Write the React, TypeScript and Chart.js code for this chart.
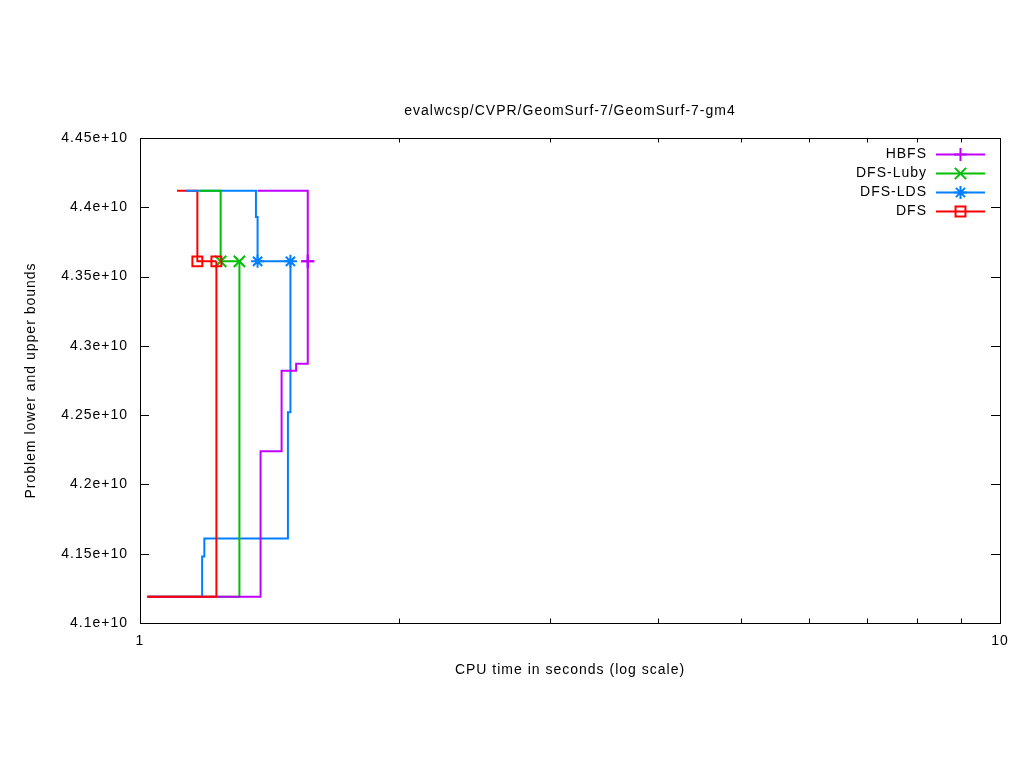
import React, { useEffect, useRef } from "react";
import { Chart, registerables } from "chart.js";

Chart.register(...registerables);

// ---------- data ----------
const TITLE = "evalwcsp/CVPR/GeomSurf-7/GeomSurf-7-gm4";
const X_TITLE = "CPU time in seconds (log scale)";
const Y_TITLE = "Problem lower and upper bounds";

const SERIES_NAMES = ["HBFS", "DFS-Luby", "DFS-LDS", "DFS"];
const SERIES_COLORS = ["#c000ff", "#00c000", "#0080ff", "#ff0000"];
const SERIES_MARKERS = ["cross", "crossRot", "star", "rect"];
const MARKER_RADII = [6.5, 8, 6.5, 7];

const X_TICKS = [1, 2, 3, 4, 5, 6, 7, 8, 9, 10];
const X_LABELED = [1, 10];
const Y_MIN = 4.1e10;
const Y_MAX = 4.45e10;
const Y_STEP = 0.05e10;

// HBFS
const hbfsUpperTime = [1.37, 1.567];
const hbfsUpperValue = [4.412e10, 4.361e10];
const hbfsLowerTime = [1.02, 1.381, 1.461, 1.519, 1.567];
const hbfsLowerValue = [4.119e10, 4.224e10, 4.282e10, 4.287e10, 4.361e10];
// DFS-Luby
const lubyUpperTime = [1.174, 1.241, 1.305];
const lubyUpperValue = [4.412e10, 4.361e10, 4.361e10];
const lubyLowerTime = [1.02, 1.305];
const lubyLowerValue = [4.119e10, 4.361e10];
// DFS-LDS
const ldsUpperTime = [1.13, 1.364, 1.37, 1.496];
const ldsUpperValue = [4.412e10, 4.393e10, 4.361e10, 4.361e10];
const ldsLowerTime = [1.02, 1.181, 1.188, 1.486, 1.496];
const ldsLowerValue = [4.119e10, 4.148e10, 4.161e10, 4.252e10, 4.361e10];
// DFS
const dfsUpperTime = [1.104, 1.166, 1.227];
const dfsUpperValue = [4.412e10, 4.361e10, 4.361e10];
const dfsLowerTime = [1.02, 1.227];
const dfsLowerValue = [4.119e10, 4.361e10];

// ---------- helpers ----------
const FONT_FAMILY = '"Liberation Sans", Arial, sans-serif';
const FONT_SIZE = 14;

type Layer = { s: number; upper: boolean; t: number[]; v: number[] };

// drawing layers, first = on top
const LAYERS: Layer[] = [
  { s: 3, upper: false, t: dfsLowerTime, v: dfsLowerValue },
  { s: 0, upper: false, t: hbfsLowerTime, v: hbfsLowerValue },
  { s: 1, upper: false, t: lubyLowerTime, v: lubyLowerValue },
  { s: 2, upper: false, t: ldsLowerTime, v: ldsLowerValue },
  { s: 0, upper: true, t: hbfsUpperTime, v: hbfsUpperValue },
  { s: 1, upper: true, t: lubyUpperTime, v: lubyUpperValue },
  { s: 2, upper: true, t: ldsUpperTime, v: ldsUpperValue },
  { s: 3, upper: true, t: dfsUpperTime, v: dfsUpperValue },
];

function markerIndex(l: Layer) {
  if (!l.upper) return l.v.length - 1;
  return l.v.indexOf(l.v[l.v.length - 1]);
}

function fmtY(v: number) {
  return `${+(v / 1e10).toFixed(2)}e+10`;
}

function drawMarker(ctx: CanvasRenderingContext2D, style: string, x: number, y: number, r: number) {
  ctx.beginPath();
  const d = r * Math.SQRT1_2;
  if (style === "cross" || style === "star") {
    ctx.moveTo(x - r, y);
    ctx.lineTo(x + r, y);
    ctx.moveTo(x, y - r);
    ctx.lineTo(x, y + r);
  }
  if (style === "crossRot" || style === "star") {
    ctx.moveTo(x - d, y - d);
    ctx.lineTo(x + d, y + d);
    ctx.moveTo(x - d, y + d);
    ctx.lineTo(x + d, y - d);
  }
  if (style === "rect") {
    ctx.rect(x - d, y - d, 2 * d, 2 * d);
  }
  ctx.stroke();
}

const decorPlugin = {
  id: "gnuplotDecor",
  beforeDraw(chart: any) {
    (chart.ctx as any).letterSpacing = "1px";
  },
  afterDraw(chart: any) {
    const ctx: CanvasRenderingContext2D = chart.ctx;
    const a = chart.chartArea;
    const xs = chart.scales.x;
    const ys = chart.scales.y;
    ctx.save();
    (ctx as any).letterSpacing = "1px";
    ctx.strokeStyle = "#000";
    ctx.lineWidth = 1;
    // border
    ctx.strokeRect(a.left + 0.5, a.top + 0.5, a.right - a.left, a.bottom - a.top);
    ctx.beginPath();
    // y ticks (inward, both sides)
    for (const t of ys.ticks) {
      const py = Math.round(ys.getPixelForValue(t.value)) + 0.5;
      ctx.moveTo(a.left, py);
      ctx.lineTo(a.left + 9, py);
      ctx.moveTo(a.right, py);
      ctx.lineTo(a.right - 9, py);
    }
    // x ticks (inward, both sides)
    for (const v of X_TICKS) {
      const px = Math.round(xs.getPixelForValue(v)) + 0.5;
      const len = X_LABELED.includes(v) ? 9 : 4.5;
      ctx.moveTo(px, a.bottom);
      ctx.lineTo(px, a.bottom - len);
      ctx.moveTo(px, a.top);
      ctx.lineTo(px, a.top + len);
    }
    ctx.stroke();

    // texts
    ctx.fillStyle = "#000";
    ctx.font = `${FONT_SIZE}px ${FONT_FAMILY}`;
    ctx.textAlign = "center";
    ctx.textBaseline = "middle";
    const cx = (a.left + a.right) / 2;
    ctx.fillText(TITLE, cx, 111);
    ctx.fillText(X_TITLE, cx, 670);
    ctx.save();
    ctx.translate(31, (a.top + a.bottom) / 2);
    ctx.rotate(-Math.PI / 2);
    ctx.fillText(Y_TITLE, 0, 0);
    ctx.restore();

    // legend
    ctx.textAlign = "right";
    for (let i = 0; i < SERIES_NAMES.length; i++) {
      const y = 154.5 + i * 19;
      ctx.fillStyle = "#000";
      ctx.fillText(SERIES_NAMES[i], 927, y);
      ctx.strokeStyle = SERIES_COLORS[i];
      ctx.lineWidth = 2;
      ctx.beginPath();
      ctx.moveTo(936, y);
      ctx.lineTo(985, y);
      ctx.stroke();
      drawMarker(ctx, SERIES_MARKERS[i], 960.5, y, MARKER_RADII[i]);
    }
    ctx.restore();
  },
};

export default function App() {
  const ref = useRef<HTMLCanvasElement>(null);

  useEffect(() => {
    if (!ref.current) return;
    const datasets = LAYERS.map((l, i) => {
      const mi = markerIndex(l);
      return {
        label: `${SERIES_NAMES[l.s]} ${l.upper ? "upper" : "lower"}`,
        data: l.t.map((t, k) => ({ x: t, y: l.v[k] })),
        borderColor: SERIES_COLORS[l.s],
        backgroundColor: "rgba(0,0,0,0)",
        borderWidth: 2,
        stepped: true,
        fill: false,
        order: i,
        pointStyle: SERIES_MARKERS[l.s],
        pointRadius: l.t.map((_, k) => (k === mi ? MARKER_RADII[l.s] : 0)),
        pointHoverRadius: 0,
        pointBorderWidth: 2,
        pointBorderColor: SERIES_COLORS[l.s],
        pointBackgroundColor: "rgba(0,0,0,0)",
      };
    });

    const font = { family: FONT_FAMILY, size: FONT_SIZE };
    const chart = new Chart(ref.current, {
      type: "line",
      data: { datasets } as any,
      options: {
        responsive: false,
        animation: false,
        devicePixelRatio: 1,
        events: [],
        layout: { padding: { left: 0, right: 24, top: 138, bottom: 0 } },
        plugins: {
          legend: { display: false },
          tooltip: { enabled: false },
          title: { display: false },
        },
        scales: {
          x: {
            type: "logarithmic",
            min: 1,
            max: 10,
            grid: { display: false, drawTicks: false, tickLength: 0 },
            border: { display: false },
            afterBuildTicks: (s: any) => {
              s.ticks = X_TICKS.map((v) => ({ value: v }));
            },
            afterFit: (s: any) => {
              s.height = 145;
            },
            ticks: {
              autoSkip: false,
              maxRotation: 0,
              padding: 10,
              color: "#000",
              font,
              callback: (v: any) => (X_LABELED.includes(Number(v)) ? String(v) : ""),
            },
          },
          y: {
            type: "linear",
            min: Y_MIN,
            max: Y_MAX,
            grid: { display: false, drawTicks: false, tickLength: 0 },
            border: { display: false },
            afterFit: (s: any) => {
              s.width = 140;
            },
            ticks: {
              stepSize: Y_STEP,
              padding: 12,
              color: "#000",
              font,
              callback: (v: any) => fmtY(Number(v)),
            },
          },
        },
      } as any,
      plugins: [decorPlugin],
    });
    return () => chart.destroy();
  }, []);

  return (
    <div style={{ position: "absolute", left: 0, top: 0, width: 1024, height: 768, background: "#fff" }}>
      <canvas ref={ref} width={1024} height={768} style={{ display: "block", width: 1024, height: 768 }} />
    </div>
  );
}
